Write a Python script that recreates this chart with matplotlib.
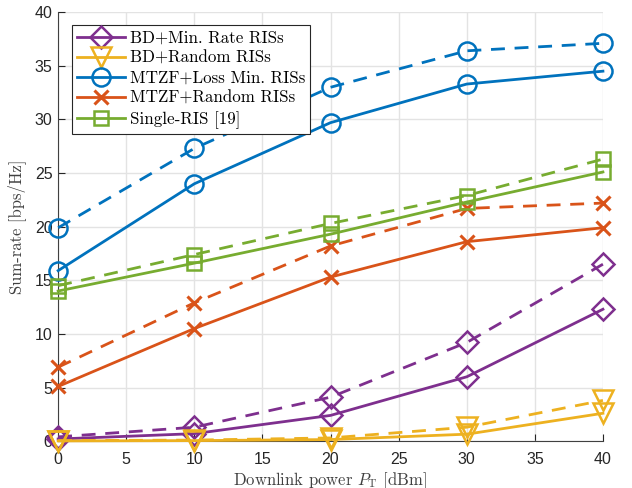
import numpy as np
import matplotlib
matplotlib.use('Agg')
import matplotlib.pyplot as plt

plt.rcParams['mathtext.fontset'] = 'cm'
plt.rcParams['axes.unicode_minus'] = False

power = [0, 10, 20, 30, 40]

# solid = one setting, dashed = the other
bd_minrate = [0.2, 0.7, 2.4, 6.0, 12.3]
bd_minrate_d = [0.4, 1.3, 4.1, 9.2, 16.5]
bd_random = [0.02, 0.05, 0.15, 0.65, 2.6]
bd_random_d = [0.05, 0.1, 0.3, 1.3, 3.8]
mtzf_loss = [15.9, 24.0, 29.7, 33.3, 34.5]
mtzf_loss_d = [19.9, 27.3, 33.0, 36.4, 37.1]
mtzf_random = [5.1, 10.5, 15.3, 18.6, 19.9]
mtzf_random_d = [6.9, 12.9, 18.2, 21.7, 22.2]
single_ris = [14.0, 16.6, 19.3, 22.3, 25.1]
single_ris_d = [14.5, 17.4, 20.3, 22.9, 26.3]

labels = ['BD+Min. Rate RISs', 'BD+Random RISs', 'MTZF+Loss Min. RISs',
          'MTZF+Random RISs', 'Single-RIS [19]']
colors = ['#7E2F8E', '#EDB120', '#0072BD', '#D95319', '#77AC30']
markers = ['D', 'v', 'o', 'x', 's']
msizes = [11, 14, 13, 10, 10]
solid = [bd_minrate, bd_random, mtzf_loss, mtzf_random, single_ris]
dashed = [bd_minrate_d, bd_random_d, mtzf_loss_d, mtzf_random_d, single_ris_d]

fig = plt.figure(figsize=(6.32, 4.88), dpi=100)
ax = fig.add_axes([0.092, 0.096, 0.862, 0.879])

handles = []
for s, d, c, m, ms, lab in zip(solid, dashed, colors, markers, msizes, labels):
    mw = 2.2 if m == 'x' else 1.8
    h, = ax.plot(power, s, '-', color=c, lw=2, marker=m, ms=ms,
                 mfc='none', mec=c, mew=mw, label=lab, clip_on=False, zorder=3)
    ax.plot(power, d, '--', color=c, lw=2, dashes=(5, 3.5), marker=m, ms=ms,
            mfc='none', mec=c, mew=mw, clip_on=False, zorder=3)
    handles.append(h)

ax.set_xlim(0, 40)
ax.set_ylim(0, 40)
ax.set_xticks(np.arange(0, 41, 5))
ax.set_yticks(np.arange(0, 41, 5))
ax.grid(True, color='#e3e3e3', lw=1)
ax.set_axisbelow(True)
for sp in ['top', 'right']:
    ax.spines[sp].set_visible(False)
for sp in ['left', 'bottom']:
    ax.spines[sp].set_color('#404040')
ax.tick_params(direction='in', length=5, colors='#262626', labelsize=11.5)
ax.tick_params(axis='x', pad=8)
ax.tick_params(axis='y', pad=4)
for t in ax.get_xticklabels() + ax.get_yticklabels():
    t.set_family('Liberation Sans')

ax.set_xlabel(r'Downlink power $P_{\rm T}$ [dBm]', family='cmr10', fontsize=12,
              color='#404040', labelpad=2)
ax.set_ylabel('Sum-rate [bps/Hz]', family='cmr10', fontsize=12, color='#404040',
              labelpad=6)

leg = ax.legend(handles=handles, loc='upper left', bbox_to_anchor=(0.026, 0.969),
                prop={'family': 'cmr10', 'size': 12.2}, fancybox=False,
                framealpha=1, edgecolor='#262626', handlelength=2.8,
                borderpad=0.3, labelspacing=0.28, handletextpad=0.3,
                borderaxespad=0)
leg.get_frame().set_linewidth(0.8)

fig.savefig('out.png', dpi=100)
